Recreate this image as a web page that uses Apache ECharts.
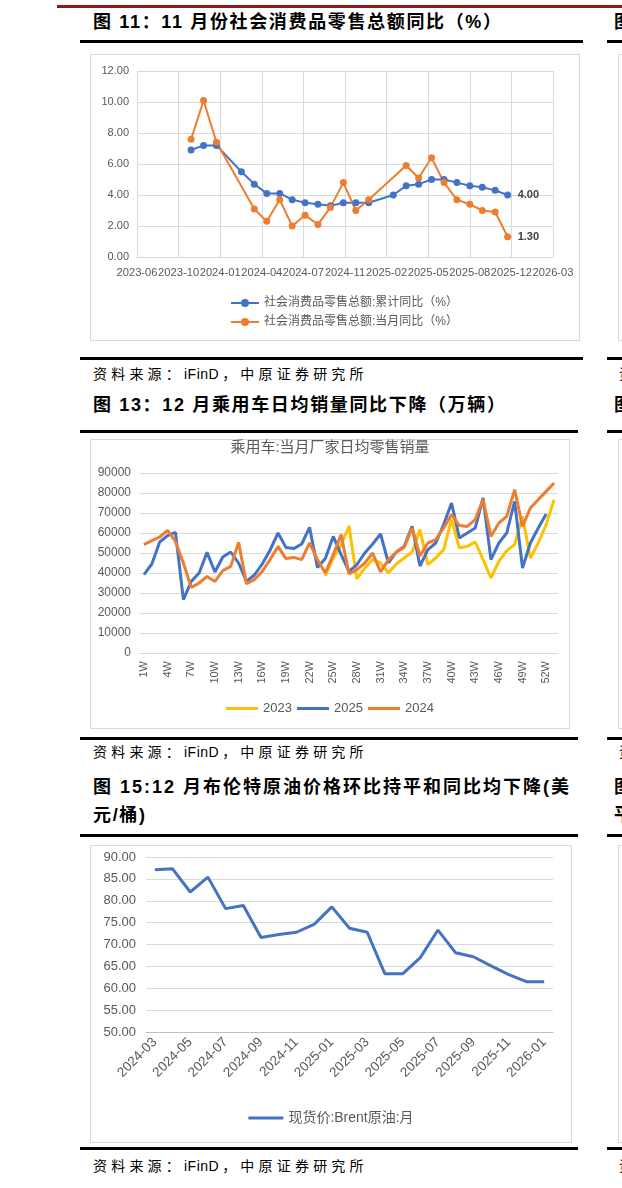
<!DOCTYPE html>
<html>
<head>
<meta charset="utf-8">
<script src="https://cdn.jsdelivr.net/npm/echarts@6/dist/echarts.min.js"></script>
<style>
body{margin:0;width:622px;height:1188px;position:relative;overflow:hidden;background:#fff;font-family:"Liberation Sans","Noto Sans CJK SC",sans-serif}
.hl{position:absolute;height:3px;background:#000}
.box{position:absolute;border:1px solid #d9d9d9;box-sizing:border-box}
.ttl{position:absolute;left:93px;font-size:18px;font-weight:bold;color:#000;white-space:nowrap;letter-spacing:1.65px;line-height:22px}
.src{position:absolute;left:93px;font-size:14px;color:#000;letter-spacing:4.2px;line-height:18px;white-space:nowrap}
.src span{letter-spacing:0.5px;margin-right:3px}
.chart{position:absolute}
</style>
</head>
<body>
<div style="position:absolute;left:57px;top:5px;width:570px;height:3px;background:#8e1b1b"></div>

<!-- 图11 -->
<div class="ttl" style="top:11px">图 11：11 月份社会消费品零售总额同比（%）</div>
<div class="hl" style="left:80px;top:40px;width:503px"></div>
<div class="box" style="left:90px;top:54px;width:490px;height:287px"></div>
<div class="chart" id="c1" style="left:90px;top:54px;width:490px;height:287px"></div>
<div class="hl" style="left:80px;top:357px;width:503px"></div>
<div class="src" style="top:365px">资料来源：<span>iFinD</span>，中原证券研究所</div>

<!-- 图13 -->
<div class="ttl" style="top:394px">图 13：12 月乘用车日均销量同比下降（万辆）</div>
<div class="hl" style="left:80px;top:430px;width:498px"></div>
<div class="box" style="left:90px;top:439px;width:480px;height:290px"></div>
<div class="chart" id="c2" style="left:90px;top:439px;width:480px;height:290px"></div>
<div class="hl" style="left:80px;top:737px;width:498px"></div>
<div class="src" style="top:743px">资料来源：<span>iFinD</span>，中原证券研究所</div>

<!-- 图15 -->
<div class="ttl" style="top:776px;letter-spacing:2px">图 15:12 月布伦特原油价格环比持平和同比均下降(美</div>
<div class="ttl" style="top:804px">元/桶)</div>
<div class="hl" style="left:80px;top:834px;width:498px"></div>
<div class="box" style="left:90px;top:845px;width:482px;height:298px"></div>
<div class="chart" id="c3" style="left:90px;top:845px;width:482px;height:298px"></div>
<div class="hl" style="left:80px;top:1147px;width:498px"></div>
<div class="src" style="top:1157px">资料来源：<span>iFinD</span>，中原证券研究所</div>

<!-- 右侧相邻栏（被页面截断） -->
<div class="hl" style="left:607px;top:40px;width:20px"></div>
<div class="hl" style="left:607px;top:357px;width:20px"></div>
<div class="hl" style="left:607px;top:430px;width:20px"></div>
<div class="hl" style="left:607px;top:737px;width:20px"></div>
<div class="hl" style="left:607px;top:834px;width:20px"></div>
<div class="hl" style="left:607px;top:1147px;width:20px"></div>
<div class="box" style="left:618px;top:54px;width:40px;height:287px"></div>
<div class="box" style="left:618px;top:439px;width:40px;height:290px"></div>
<div class="box" style="left:618px;top:845px;width:40px;height:298px"></div>
<div class="ttl" style="left:614px;top:11px">图</div>
<div class="ttl" style="left:614px;top:394px">图</div>
<div class="ttl" style="left:614px;top:776px">图</div>
<div class="ttl" style="left:614px;top:804px">平</div>
<div class="src" style="left:619px;top:365px">资</div>
<div class="src" style="left:619px;top:743px">资</div>
<div class="src" style="left:619px;top:1157px">资</div>

<script>
// ---------- 图11 数据 ----------
const retailMonths = ['2023-10','2023-11','2023-12','2024-02','2024-03','2024-04','2024-05','2024-06',
  '2024-07','2024-08','2024-09','2024-10','2024-11','2024-12','2025-02','2025-03','2025-04','2025-05',
  '2025-06','2025-07','2025-08','2025-09','2025-10','2025-11']
const retailCumYoY = [6.9,7.2,7.2,5.5,4.7,4.1,4.1,3.7,3.5,3.4,3.3,3.5,3.5,3.5,4.0,4.6,4.7,5.0,5.0,4.8,4.6,4.5,4.3,4.0]
const retailMonthYoY = [7.6,10.1,7.4,null,3.1,2.3,3.7,2.0,2.7,2.1,3.2,4.8,3.0,3.7,null,5.9,5.1,6.4,4.8,3.7,3.4,3.0,2.9,1.3]

// ---------- 图13 数据 ----------
const weeks = ['1W','2W','3W','4W','5W','6W','7W','8W','9W','10W','11W','12W','13W','14W','15W','16W','17W','18W',
  '19W','20W','21W','22W','23W','24W','25W','26W','27W','28W','29W','30W','31W','32W','33W','34W','35W','36W',
  '37W','38W','39W','40W','41W','42W','43W','44W','45W','46W','47W','48W','49W','50W','51W','52W','53W']
const cars2023 = [null,null,null,null,null,null,null,null,null,null,null,null,null,null,null,null,null,null,
  null,null,null,null,null,38500,47500,54000,63500,37000,42500,46700,45000,40000,44500,47500,50500,61700,
  44200,47500,51700,66700,52500,53300,55500,46700,37500,45800,51200,54200,68300,47500,55000,64200,76700]
const cars2025 = [39200,44500,55500,58700,60300,26700,35800,40000,50300,40500,48000,50500,45000,35800,39000,44500,51500,60000,
  52800,52200,54500,62800,42800,47200,58300,49200,40800,44200,50000,54500,59500,45000,50500,53300,63300,43500,
  51700,55000,64200,75000,57500,60000,62500,77500,46700,55000,60000,75800,42500,55000,62500,69500,null]
const cars2024 = [54200,56200,58000,61300,55800,45000,32800,35000,38300,35800,41200,43300,55300,34700,36700,40800,46700,53300,
  47200,47800,46700,55000,46700,40000,49200,59200,39500,41700,45000,50000,40500,46700,50500,52800,62500,48500,
  55000,56700,62500,69200,63700,63300,66700,76700,58300,65000,68300,81700,63300,72500,76700,80800,85000]

// ---------- 图15 数据 ----------
const brentMonths = ['2024-03','2024-04','2024-05','2024-06','2024-07','2024-08','2024-09','2024-10','2024-11','2024-12',
  '2025-01','2025-02','2025-03','2025-04','2025-05','2025-06','2025-07','2025-08','2025-09','2025-10','2025-11','2025-12','2026-01']
const brentPrice = [87.1,87.3,82.0,85.4,78.2,78.9,71.6,72.3,72.8,74.6,78.6,73.7,72.8,63.3,63.3,67.0,73.3,68.1,67.2,65.1,63.1,61.5,61.5]

const FONT = 'Liberation Sans, Noto Sans CJK SC, sans-serif'
const GRAY = '#595959'
const GRID = '#d9d9d9'
const BLUE = '#4472C4', ORANGE = '#ED7D31', YELLOW = '#FFC000'

// Excel 日期序列号（月末）
const EXCEL_EPOCH = Date.UTC(1899, 11, 30)
function monthEnd (s) {
  const [y, m] = s.split('-').map(Number)
  return (Date.UTC(y, m, 0) - EXCEL_EPOCH) / 86400000
}
function serialLabel (v) {
  const d = new Date(EXCEL_EPOCH + v * 86400000)
  return d.getUTCFullYear() + '-' + String(d.getUTCMonth() + 1).padStart(2, '0')
}

// 图11
const chart1 = echarts.init(document.getElementById('c1'))
const endLbl = {
  show: true, distance: 10, color: '#404040', fontWeight: 'bold', fontSize: 11, fontFamily: FONT,
  formatter: p => p.value[1].toFixed(2)
}
chart1.setOption({
  animation: false,
  textStyle: { fontFamily: FONT },
  grid: { left: 47, right: 27, top: 17, bottom: 84 },
  legend: {
    orient: 'vertical', left: 135, top: 237, itemWidth: 28, itemHeight: 10, itemGap: 5,
    textStyle: { color: GRAY, fontSize: 12, lineHeight: 14 },
    data: ['社会消费品零售总额:累计同比（%）', '社会消费品零售总额:当月同比（%）']
  },
  xAxis: {
    type: 'value', min: 45100, max: 46100, interval: 100,
    axisLine: { lineStyle: { color: GRID } },
    axisTick: { show: false },
    splitLine: { lineStyle: { color: GRID } },
    axisLabel: {
      color: GRAY, fontSize: 11.2, margin: 10, formatter: serialLabel,
      showMinLabel: true, showMaxLabel: true, hideOverlap: false
    }
  },
  yAxis: {
    type: 'value', min: 0, max: 12, interval: 2,
    axisLine: { show: false }, axisTick: { show: false },
    splitLine: { lineStyle: { color: GRID } },
    axisLabel: { color: GRAY, fontSize: 11, margin: 8, formatter: v => v.toFixed(2) }
  },
  series: [
    {
      name: '社会消费品零售总额:累计同比（%）', type: 'line', symbol: 'circle', symbolSize: 7,
      color: BLUE, lineStyle: { width: 2 }, connectNulls: true,
      data: retailMonths.map((m, i) => [monthEnd(m), retailCumYoY[i]]),
      endLabel: endLbl
    },
    {
      name: '社会消费品零售总额:当月同比（%）', type: 'line', symbol: 'circle', symbolSize: 7,
      color: ORANGE, lineStyle: { width: 2 }, connectNulls: true,
      data: retailMonths.map((m, i) => [monthEnd(m), retailMonthYoY[i]]).filter(d => d[1] !== null),
      endLabel: endLbl
    }
  ]
})

// 图13
const chart2 = echarts.init(document.getElementById('c2'))
const carLine = (name, data, color) => ({
  name, type: 'line', data, color, symbol: 'none', lineStyle: { width: 3 }
})
chart2.setOption({
  animation: false,
  textStyle: { fontFamily: FONT },
  title: {
    text: '乘用车:当月厂家日均零售销量', left: 'center', top: 1, padding: 0,
    textStyle: { color: GRAY, fontSize: 15, fontWeight: 'normal', fontFamily: FONT }
  },
  grid: { left: 50, right: 12, top: 34, bottom: 76 },
  legend: {
    left: 'center', top: 258, icon: 'rect', itemWidth: 32, itemHeight: 3, itemGap: 5,
    textStyle: { color: GRAY, fontSize: 13 },
    data: ['2023', '2025', '2024']
  },
  xAxis: {
    type: 'category', data: weeks, boundaryGap: true,
    axisLine: { lineStyle: { color: GRID } }, axisTick: { show: false },
    axisLabel: { color: GRAY, fontSize: 11, rotate: 90, interval: 2, margin: 8 }
  },
  yAxis: {
    type: 'value', min: 0, max: 90000, interval: 10000,
    axisLine: { show: false }, axisTick: { show: false },
    splitLine: { lineStyle: { color: GRID } },
    axisLabel: { color: GRAY, fontSize: 12, margin: 9, formatter: v => String(v) }
  },
  series: [
    carLine('2023', cars2023, YELLOW),
    carLine('2025', cars2025, BLUE),
    carLine('2024', cars2024, ORANGE)
  ]
})

// 图15
const chart3 = echarts.init(document.getElementById('c3'))
chart3.setOption({
  animation: false,
  textStyle: { fontFamily: FONT },
  grid: { left: 56, right: 19, top: 12, bottom: 111 },
  legend: {
    left: 'center', top: 261, icon: 'rect', itemWidth: 35, itemHeight: 3,
    textStyle: { color: GRAY, fontSize: 14 },
    data: ['现货价:Brent原油:月']
  },
  xAxis: {
    type: 'category', data: brentMonths, boundaryGap: true,
    axisLine: { lineStyle: { color: '#bfbfbf' } },
    axisTick: { interval: 1, length: 5, lineStyle: { color: '#bfbfbf' } },
    axisLabel: { color: GRAY, fontSize: 13.5, rotate: 45, interval: 1, margin: 8 }
  },
  yAxis: {
    type: 'value', min: 50, max: 90, interval: 5,
    axisLine: { show: false }, axisTick: { show: false },
    splitLine: { lineStyle: { color: GRID } },
    axisLabel: { color: GRAY, fontSize: 13, margin: 10, formatter: v => v.toFixed(2) }
  },
  series: [{
    name: '现货价:Brent原油:月', type: 'line', data: brentPrice, color: BLUE,
    symbol: 'none', lineStyle: { width: 3 }
  }]
})
</script>
</body>
</html>
